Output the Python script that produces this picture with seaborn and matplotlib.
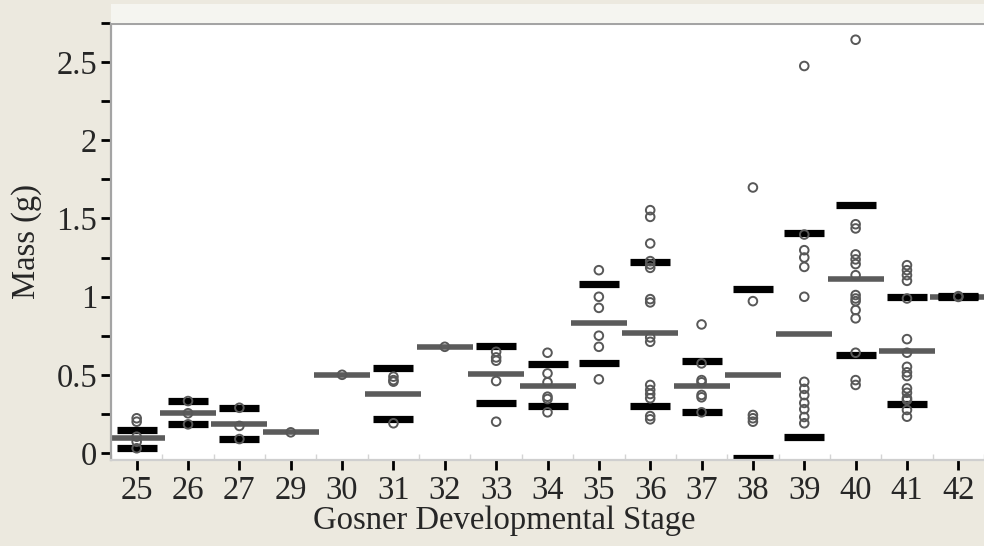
import numpy as np
import pandas as pd
import matplotlib
matplotlib.use("Agg")
import matplotlib.pyplot as plt
from matplotlib.patches import Rectangle
import seaborn as sns

# ---------------- data ----------------
stages = ["25", "26", "27", "29", "30", "31", "32", "33", "34",
          "35", "36", "37", "38", "39", "40", "41", "42"]

m25 = [0.222, 0.200, 0.104, 0.072, 0.030]
m26 = [0.332, 0.254, 0.183]
m27 = [0.289, 0.173, 0.089]
m29 = [0.132]
m30 = [0.50]
m31 = [0.488, 0.466, 0.456, 0.19]
m32 = [0.679]
m33 = [0.647, 0.611, 0.59, 0.46, 0.20]
m34 = [0.641, 0.509, 0.452, 0.36, 0.345, 0.26]
m35 = [1.169, 0.999, 0.928, 0.75, 0.679, 0.471]
m36 = [1.553, 1.51, 1.34, 1.227, 1.206, 1.184, 0.984, 0.963, 0.739, 0.711,
       0.435, 0.403, 0.377, 0.35, 0.236, 0.215]
m37 = [0.822, 0.573, 0.466, 0.452, 0.371, 0.356, 0.26]
m38 = [1.698, 0.971, 0.243, 0.222, 0.20]
m39 = [2.475, 1.397, 1.297, 1.25, 1.19, 0.999, 0.455, 0.41, 0.37, 0.32,
       0.28, 0.23, 0.19]
m40 = [2.643, 1.463, 1.436, 1.27, 1.238, 1.208, 1.137, 1.01, 0.988, 0.971,
       0.914, 0.861, 0.641, 0.466, 0.435]
m41 = [1.201, 1.169, 1.137, 1.101, 0.988, 0.728, 0.641, 0.551, 0.516, 0.492,
       0.413, 0.385, 0.35, 0.339, 0.275, 0.232]
m42 = [1.003, 0.998]

mean_mass = [0.094, 0.254, 0.185, 0.132, 0.50, 0.377, 0.679, 0.503, 0.428,
             0.833, 0.765, 0.428, 0.498, 0.758, 1.11, 0.652, 1.0]
sd_upper = [0.147, 0.332, 0.289, np.nan, np.nan, 0.541, np.nan, 0.684, 0.567,
            1.078, 1.219, 0.59, 1.046, 1.404, 1.589, 0.995, 1.003]
sd_lower = [0.030, 0.183, 0.089, np.nan, np.nan, 0.217, np.nan, 0.321, 0.30,
            0.577, 0.30, 0.264, -0.03, 0.10, 0.626, 0.313, 0.997]

ytick_values = [0, 0.5, 1, 1.5, 2, 2.5]
ytick_labels = ["0", "0.5", "1", "1.5", "2", "2.5"]
yminor_values = [0.25, 0.75, 1.25, 1.75, 2.25, 2.75]

x_label = "Gosner Developmental Stage"
y_label = "Mass (g)"

# ---------------- build tables ----------------
samples = [m25, m26, m27, m29, m30, m31, m32, m33, m34, m35, m36, m37, m38,
           m39, m40, m41, m42]
df = pd.DataFrame({
    "stage": [s for s, m in zip(stages, samples) for _ in m],
    "mass": [v for m in samples for v in m],
})
stats = pd.DataFrame({"stage": stages, "mean": mean_mass,
                      "upper": sd_upper, "lower": sd_lower})

# ---------------- style ----------------
sns.set_style("ticks")
plt.rcParams["font.family"] = ["Liberation Serif", "DejaVu Serif"]
FS = 23.5

W, H = 984, 546
fig = plt.figure(figsize=(W / 100, H / 100), dpi=100)
fig.patch.set_facecolor("#ECE9DF")
fig.patches.append(Rectangle((111 / W, (H - 23) / H), (W - 111) / W, 19 / H,
                             transform=fig.transFigure, facecolor="#F5F5F0",
                             edgecolor="none", zorder=0))
ax = fig.add_axes([111 / W, (H - 460) / H, (W - 111) / W, 437 / H])
ax.set_facecolor("white")

# mean lines (gray)
sns.pointplot(data=stats, x="stage", y="mean", order=stages, markers="_",
              linestyles="none", color="#5b5b5b", errorbar=None,
              markersize=40, markeredgewidth=4.0, ax=ax)
# mean +/- SD lines (black)
for col in ["upper", "lower"]:
    sns.pointplot(data=stats, x="stage", y=col, order=stages, markers="_",
                  linestyles="none", color="black", errorbar=None,
                  markersize=29.5, markeredgewidth=5.2, ax=ax)
# individual observations
sns.stripplot(data=df, x="stage", y="mass", order=stages, jitter=False,
              size=6.2, linewidth=1.4, edgecolor="#585858",
              facecolor="none", color="#585858", ax=ax, zorder=4)

# ---------------- axes formatting ----------------
ax.set_xlim(-0.5, 16.29)
ax.set_ylim(-0.045, 2.75)
ax.set_yticks(ytick_values)
ax.set_yticklabels(ytick_labels)
ax.set_yticks(yminor_values, minor=True)
ax.set_xticks(np.arange(-0.5, len(stages), 1.0), minor=True)

ax.tick_params(axis="y", which="both", direction="out", length=7, width=2,
               color="black", labelsize=FS, pad=3)
ax.tick_params(axis="x", which="major", direction="out", length=7, width=2,
               color="black", labelsize=FS, pad=4)
ax.tick_params(axis="x", which="minor", direction="in", length=4, width=1,
               color="#d4d4d4")

ax.set_xlabel(x_label, fontsize=FS)
ax.xaxis.set_label_coords((504 - 111) / 873, (460 - 506) / 437)
ax.set_ylabel(y_label, fontsize=FS)
ax.yaxis.set_label_coords((42 - 111) / 873, 0.5)

for side in ["top", "left", "bottom", "right"]:
    ax.spines[side].set_visible(True)
ax.spines["top"].set_color("#a4a4a4")
ax.spines["top"].set_linewidth(2.2)
ax.spines["left"].set_color("#a4a4a4")
ax.spines["left"].set_linewidth(1.6)
ax.spines["bottom"].set_color("#cfcfcf")
ax.spines["bottom"].set_linewidth(1.6)
ax.spines["right"].set_visible(False)

fig.savefig("out.png", dpi=100, facecolor=fig.get_facecolor())
